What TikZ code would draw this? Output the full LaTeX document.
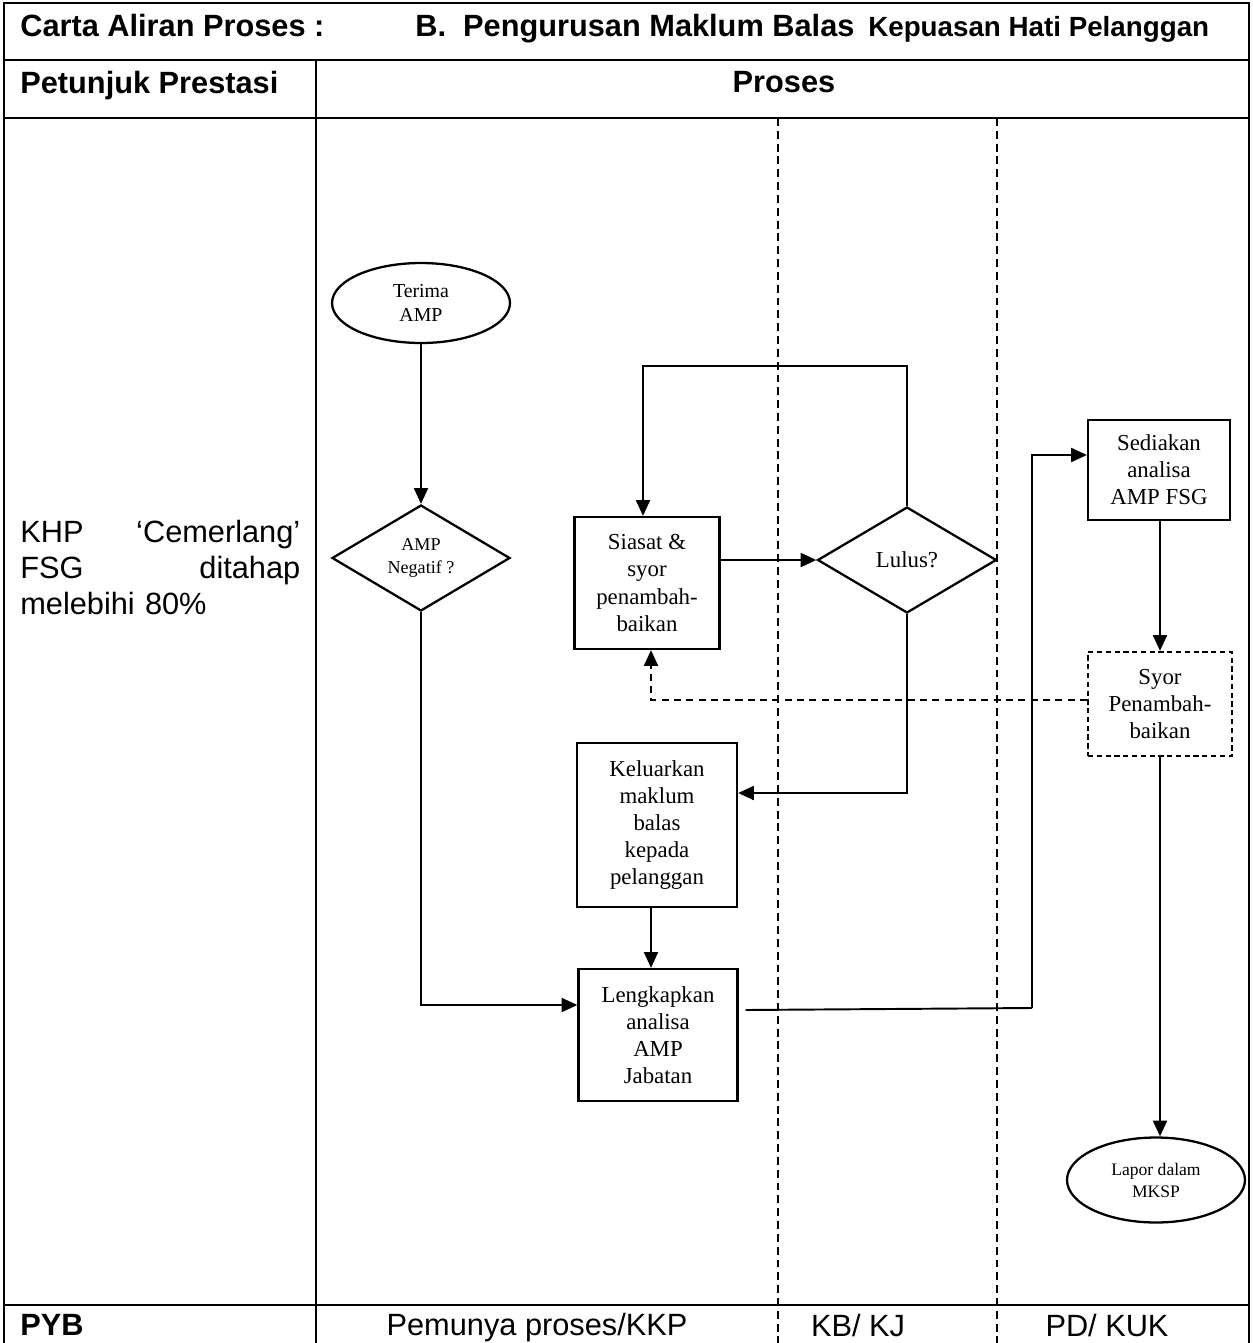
\documentclass[tikz,border=0pt]{standalone}
\usepackage{fontspec}
\setmainfont{Liberation Serif}
\setsansfont{Liberation Sans}
\usetikzlibrary{shapes.geometric, arrows.meta, positioning, calc}

\begin{document}
\begin{tikzpicture}[x=0.02cm, y=-0.02cm,
  hdr/.style={font=\sffamily\fontsize{17.5}{20}\selectfont, inner sep=0pt},
  bhdr/.style={hdr, font=\sffamily\bfseries\fontsize{17.5}{20}\selectfont},
  box/.style={draw, line width=1.3pt, align=center, inner sep=0pt, font=\fontsize{13}{15.4}\selectfont},
  arr/.style={line width=1.1pt, -{Triangle[length=9pt, width=8pt]}}]
\useasboundingbox (0,0) rectangle (1252,1343);

% Table frame
\draw[line width=1.2pt] (4,1343) -- (4,3) -- (1249,3) -- (1249,1343);
\draw[line width=1.2pt] (4,60) -- (1249,60);
\draw[line width=1.2pt] (4,118) -- (1249,118);
\draw[line width=1.2pt] (4,1305) -- (1249,1305);
\draw[line width=1.2pt] (316,60) -- (316,1343);

% Swimlanes
\draw[dashed, line width=1pt, dash pattern=on 4.5pt off 2.8pt] (778,118) -- (778,1343);
\draw[dashed, line width=1pt, dash pattern=on 4.5pt off 2.8pt] (997,118) -- (997,1343);

% Headings
\node[bhdr, anchor=base west] (carta) at (20,36) {Carta Aliran Proses :};
\node[bhdr, anchor=base west] (tajuk) at (415,36)
  {B.\ \ Pengurusan Maklum Balas\hspace{3pt} {\fontsize{15.8}{18}\selectfont Kepuasan Hati Pelanggan}};
\node[bhdr, anchor=base west] (petunjuk) at (20,93) {Petunjuk Prestasi};
\node[bhdr, anchor=base] (proses) at (784,92) {Proses};

% Performance indicator
\node[hdr, anchor=north west, text width=5.6cm, align=left, font=\sffamily\fontsize{17.5}{20.5}\selectfont] (khp) at (20,520)
  {KHP\hfill ‘Cemerlang’\\ FSG\hfill ditahap\\ melebihi 80\%};

% Owners
\node[bhdr, anchor=base west] (pyb) at (20,1335) {PYB};
\node[hdr, anchor=base] (pemunya) at (537,1335) {Pemunya proses/KKP};
\node[hdr, anchor=base] (kbkj) at (858,1336) {KB/ KJ};
\node[hdr, anchor=base] (pdkuk) at (1107,1336) {PD/ KUK};

% Flow nodes
\node[box, ellipse, minimum width=3.56cm, minimum height=1.6cm, font=\fontsize{11.3}{13.6}\selectfont] (terima) at (421,303) {Terima\\AMP};
\node[box, diamond, minimum width=3.56cm, minimum height=2.12cm, font=\fontsize{10.3}{13}\selectfont] (negatif) at (421,558) {AMP\\Negatif ?};
\node[box, minimum width=2.9cm, minimum height=2.64cm] (siasat) at (647,583) {Siasat \&\\syor\\penambah-\\baikan};
\node[box, diamond, minimum width=3.58cm, minimum height=2.12cm] (lulus) at (907,560) {Lulus?};
\node[box, minimum width=3.2cm, minimum height=3.28cm] (keluar) at (657,825) {Keluarkan\\maklum\\balas\\kepada\\pelanggan};
\node[box, minimum width=3.18cm, minimum height=2.64cm] (lengkap) at (658,1035) {Lengkapkan\\analisa\\AMP\\Jabatan};
\node[box, minimum width=2.84cm, minimum height=2cm] (sediakan) at (1159,470) {Sediakan\\analisa\\AMP FSG};
\node[box, dashed, dash pattern=on 3pt off 2pt, minimum width=2.88cm, minimum height=2.08cm] (syor) at (1160,704) {Syor\\Penambah-\\baikan};
\node[box, ellipse, minimum width=3.56cm, minimum height=1.7cm, font=\fontsize{10}{12.5}\selectfont] (lapor) at (1156,1180) {Lapor dalam\\MKSP};

% Bends
\coordinate (ltop) at (907,366);
\coordinate (cturn) at (1032,1008);

% Connectors
\draw[arr] (terima) -- (negatif);
\draw[arr] (negatif.south) |- ($(lengkap.west)+(0,-30)$);
\draw[arr] (siasat.east |- lulus.west) -- (lulus.west);
\draw[arr] (lulus.north) -- (ltop) -| ($(siasat.north)+(-4,0)$);
\draw[arr] (lulus.south) |- ($(keluar.east)+(0,-32)$);
\draw[arr] ($(keluar.south)+(-6,0)$) -- ($(lengkap.north)+(-7,0)$);
\draw[line width=1.1pt] ($(lengkap.east)+(7,-25)$) -- (cturn);
\draw[arr] (cturn) |- ($(sediakan.west)+(0,-15)$);
\draw[arr] (sediakan.south -| syor.north) -- (syor.north);
\draw[arr, dashed, dash pattern=on 4pt off 3pt] ($(syor.west)+(0,-4)$) -| ($(siasat.south)+(4,0)$);
\draw[arr] (syor.south) -- (syor.south |- lapor.north);
\end{tikzpicture}
\end{document}
